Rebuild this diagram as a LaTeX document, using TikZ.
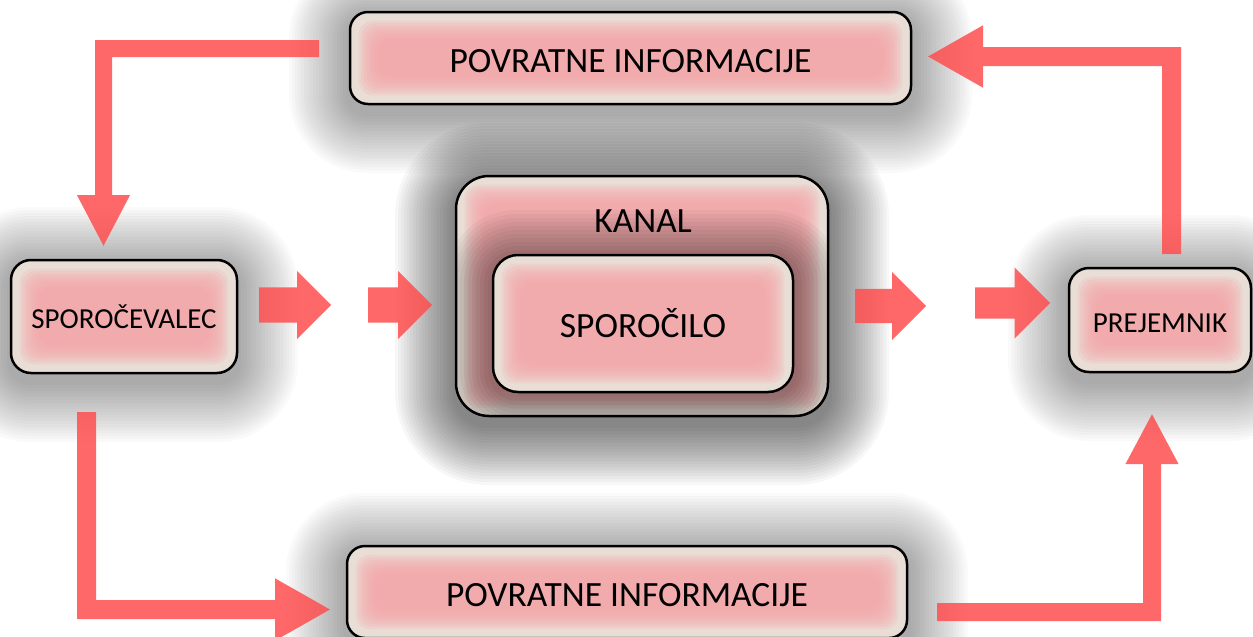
\documentclass[tikz,border=0pt]{standalone}
\usepackage{fontspec}
\setmainfont{Carlito}
\usetikzlibrary{shapes.arrows,arrows.meta}
\definecolor{beige}{RGB}{233,222,214}
\definecolor{pinkc}{RGB}{246,163,166}
\definecolor{arrowred}{RGB}{255,78,78}
\newcommand\boxshadow[7]{% x1 y1 x2 y2 radius dy opacity
  \foreach \i in {1,...,20}{
    \fill[black,opacity=#7,rounded corners={#5+\i*3}] (#1-\i*3,#2-\i*3+#6) rectangle (#3+\i*3,#4+\i*3+#6);
  }}
\tikzset{
  box/.style={draw=black, line width=2.5pt, fill=beige, rounded corners=#1, inner sep=0pt,
    text depth=0pt,
    path picture={\foreach \k in {1,...,8}{
      \fill[pinkc,opacity=0.2,rounded corners=14pt]
        ([shift={(\k*2.6pt+6pt,-\k*2.6pt-6pt)}]path picture bounding box.north west) rectangle
        ([shift={(-\k*2.6pt-6pt,\k*2.6pt+6pt)}]path picture bounding box.south east);}}},
  bigfont/.style={font=\fontsize{35.5}{40}\selectfont, text height=28pt},
  smallfont/.style={font=\fontsize{29}{33}\selectfont, text height=24pt},
  blockarrow/.style={single arrow, fill=arrowred, fill opacity=0.85, draw=none, inner sep=0pt,
    text depth=0pt, single arrow tip angle=90, anchor=tail},
  larrow/.style={draw=arrowred, line width=#1, line join=miter},
}
\begin{document}
\begin{tikzpicture}[x=1pt,y=-1pt]
\path[use as bounding box] (0,0) rectangle (1253,637);
\clip (0,0) rectangle (1253,637);
% shadows
\boxshadow{349}{11}{912}{105}{18}{8}{0.02}
\boxshadow{10}{259}{238}{374}{20}{8}{0.02}
\boxshadow{455}{175}{829}{417}{33}{8}{0.032}
\boxshadow{1068}{267}{1252}{373}{20}{8}{0.02}
\boxshadow{346}{545}{908}{639}{18}{8}{0.02}
% boxes
\node[box=18pt, minimum width=561pt, minimum height=92pt, bigfont] (top) at (630.5,58) {POVRATNE INFORMACIJE};
\node[box=20pt, minimum width=226pt, minimum height=113pt, smallfont] (sender) at (124,316.5) {SPOROČEVALEC};
\node[box=33pt, minimum width=372pt, minimum height=240pt] (kanal) at (642,296) {};
\node[box=20pt, minimum width=182pt, minimum height=104pt, smallfont] (receiver) at (1160,320) {PREJEMNIK};
\node[box=18pt, minimum width=560pt, minimum height=92pt, bigfont] (bottom) at (627,592) {POVRATNE INFORMACIJE};
% inner shadow in channel
\begin{scope}
\clip[rounded corners=33pt] (456,176) rectangle (828,416);
\foreach \i in {1,...,12}{
  \fill[black,opacity=0.035,rounded corners={25+\i*4}] (492-\i*4,254-\i*4+4) rectangle (794+\i*4,393+\i*4+4);
}
\end{scope}
\node[box=25pt, minimum width=300pt, minimum height=137pt, bigfont] (msg) at (643,323.5) {SPOROČILO};
\node[font=\fontsize{35.5}{40}\selectfont, text height=22.4pt, text depth=0pt, inner sep=0pt] (kanaltext) at (643,221) {KANAL};
% block arrows
\node[blockarrow, text height=35pt, single arrow head extend=16.5pt, minimum height=72pt] (a1) at (259,305) {};
\node[blockarrow, text height=35pt, single arrow head extend=16.5pt, minimum height=64pt] (a2) at (368,305) {};
\node[blockarrow, text height=34pt, single arrow head extend=17pt, minimum height=71pt] (a3) at (855,306) {};
\node[blockarrow, text height=31pt, single arrow head extend=20pt, minimum height=75pt] (a4) at (975,303) {};
% feedback arrows
\coordinate (tls) at (319,48.5);
\coordinate (tle) at (103.5,247);
\coordinate (trs) at (1171.5,254);
\coordinate (tre) at (927,56.5);
\coordinate (bls) at (86.5,412);
\coordinate (ble) at (331,609.5);
\coordinate (brs) at (937,612);
\coordinate (bre) at (1152,413);
\begin{scope}[transparency group, opacity=0.85]
\draw[larrow=17pt, -{Triangle[width=49pt,length=52pt]}] (tls) -| (tle);
\draw[larrow=19pt, -{Triangle[width=58pt,length=56pt]}] (trs) |- (tre);
\draw[larrow=19pt, -{Triangle[width=58pt,length=56pt]}] (bls) |- (ble);
\draw[larrow=18pt, -{Triangle[width=49pt,length=51pt]}] (brs) -| (bre);
\end{scope}
\end{tikzpicture}
\end{document}
